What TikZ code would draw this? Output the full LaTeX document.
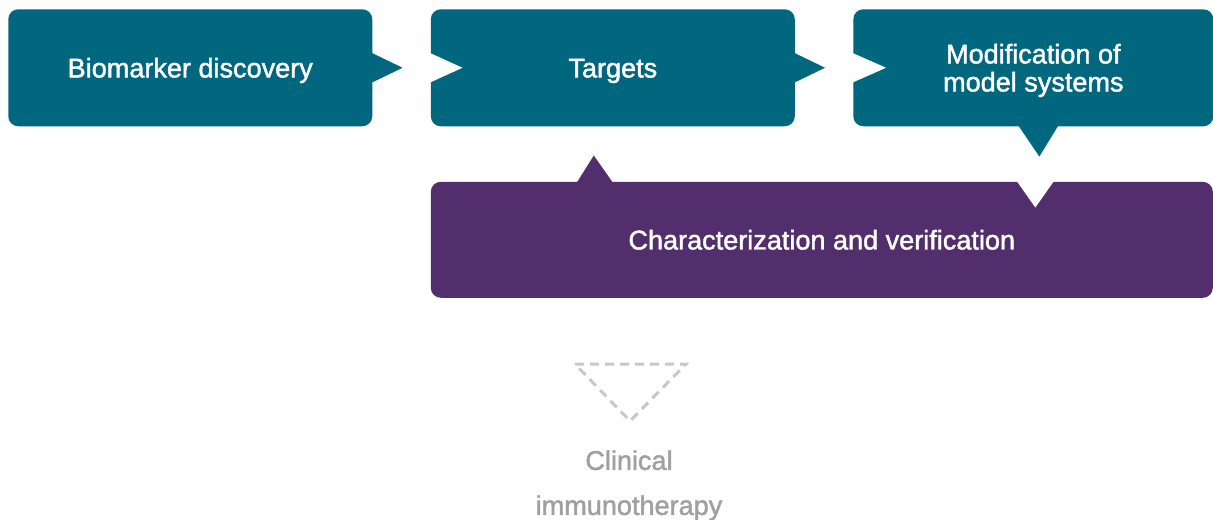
\documentclass[tikz,border=0pt]{standalone}
\usepackage{fontspec}
\setmainfont{Liberation Sans}[UprightFeatures={FakeBold=1.6}]
\usepackage{xcolor}
\definecolor{deepteal}{RGB}{0,103,127}
\definecolor{plum}{RGB}{83,46,109}
\definecolor{softgray}{RGB}{160,160,160}
\definecolor{dashgray}{RGB}{200,200,200}
\usepackage{tikz}
\usetikzlibrary{positioning,calc}

\begin{document}
\begin{tikzpicture}[x=0.75pt,y=-0.75pt,node distance=43.5pt]
  \tikzstyle{stage}=[rectangle,fill=deepteal,text=white,minimum width=273pt,minimum height=87.75pt,rounded corners=7.5pt,align=center,inner sep=0pt,text height=14.5pt,text depth=0pt,font=\fontsize{20.3}{21}\selectfont]
  \tikzstyle{check}=[stage,fill=plum,minimum width=586.5pt,minimum height=87pt]
  \tikzstyle{pointer}=[fill=deepteal]
  \tikzstyle{notch}=[fill=white]
  \tikzstyle{outcome}=[align=center,inner sep=0pt,text=softgray,font=\fontsize{20.3}{33.75}\selectfont]
  \tikzstyle{dashline}=[draw=dashgray,line width=2.25pt,dash pattern=on 6.75pt off 4.5pt]

  \useasboundingbox (0,0) rectangle (1213,519);

  \node[stage,anchor=north west] (bio) at (8,9) {Biomarker discovery};
  \node[stage,right=of bio] (targets) {Targets};
  \node[stage,right=of targets,minimum width=270pt,text height=35.5pt] (models) {Modification of\\model systems};
  \node[check,below=41.25pt of targets.south west,anchor=north west] (charver) {Characterization and verification};
  \node[outcome,anchor=north] (clinical) at (629,450) {Clinical\\immunotherapy};

  % arrows between the top boxes
  \fill[pointer] ($(bio.east)+(-1,-15)$) -- ($(bio.east)+(30,0)$) -- ($(bio.east)+(-1,15)$) -- cycle;
  \fill[notch] ($(targets.west)+(-1,-15)$) -- ($(targets.west)+(32,0)$) -- ($(targets.west)+(-1,15)$) -- cycle;
  \fill[pointer] ($(targets.east)+(-1,-15)$) -- ($(targets.east)+(30,0)$) -- ($(targets.east)+(-1,15)$) -- cycle;
  \fill[notch] ($(models.west)+(-1,-15)$) -- ($(models.west)+(33,0)$) -- ($(models.west)+(-1,15)$) -- cycle;

  % models down into the purple box, purple box back up to targets
  \fill[pointer] ($(models.south)+(-15,-1)$) -- ($(models.south)+(6,30)$) -- ($(models.south)+(25,-1)$) -- cycle;
  \fill[notch] ($(models.south |- charver.north)+(-17,-1)$) -- ($(models.south |- charver.north)+(2,26)$) -- ($(models.south |- charver.north)+(21,-1)$) -- cycle;
  \fill[plum] ($(targets.south |- charver.north)+(-36,1)$) -- ($(targets.south |- charver.north)+(-19,-26)$) -- ($(targets.south |- charver.north)+(0,1)$) -- cycle;

  \draw[dashline] ($(clinical.north)+(-54,-86)$) -- ($(clinical.north)+(57,-86)$) -- ($(clinical.north)+(1,-29)$) -- cycle;
\end{tikzpicture}
\end{document}
